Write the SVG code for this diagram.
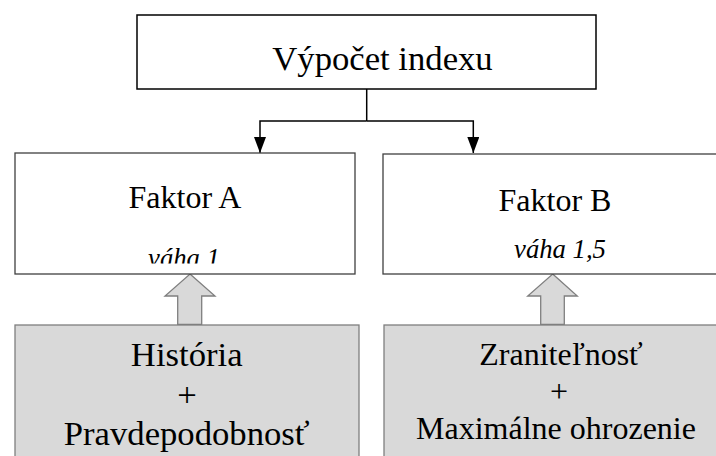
<svg xmlns="http://www.w3.org/2000/svg" width="716" height="456" viewBox="0 0 716 456">
<style>
text{font-family:'Liberation Serif','Times New Roman',serif;fill:#000;text-anchor:middle}
.top{fill:#fff;stroke:#000;stroke-width:1.5}
.fac{fill:#fff;stroke:#404040;stroke-width:1.3}
.src{fill:#d9d9d9;stroke:#7f7f7f;stroke-width:1.3}
.blk{fill:#d9d9d9;stroke:#7f7f7f;stroke-width:1.3}
.con{fill:none;stroke:#000;stroke-width:1.5}
.t34{font-size:34.67px}
.t32{font-size:32px}
.it{font-size:26.67px;font-style:italic}
</style>
<defs>
<marker id="ah" viewBox="0 0 16 12" refX="16" refY="6" markerWidth="16" markerHeight="12" markerUnits="userSpaceOnUse" orient="auto">
<path d="M0,0 L16,6 L0,12 Z" fill="#000"/>
</marker>
<clipPath id="clipA"><rect x="15" y="153" width="340" height="110.5"/></clipPath>
</defs>
<g id="connectors">
<path class="con" d="M366.7,89 V121"/>
<path class="con" d="M366.7,121 H260 V153" marker-end="url(#ah)"/>
<path class="con" d="M366.7,121 H473.3 V153" marker-end="url(#ah)"/>
<path class="blk" d="M190,274 L215,296 L201.7,296 L201.7,324.5 L177.7,324.5 L177.7,296 L165,296 Z"/>
<path class="blk" d="M552.7,274 L577.3,296 L564.3,296 L564.3,324.5 L540.7,324.5 L540.7,296 L527.7,296 Z"/>
</g>
<g id="vypocet">
<rect class="top" x="137" y="15" width="459" height="74"/>
<text class="t34" x="382.5" y="70">Výpočet indexu</text>
</g>
<g id="faktorA">
<rect class="fac" x="15" y="153" width="340" height="121"/>
<g clip-path="url(#clipA)">
<text class="t32" x="185" y="208.3">Faktor A</text>
<text class="it" x="184" y="267">váha 1</text>
</g>
</g>
<g id="faktorB">
<rect class="fac" x="383" y="154" width="340" height="120"/>
<text class="t32" x="555" y="210.7">Faktor B</text>
<text class="it" x="560" y="258.3">váha 1,5</text>
</g>
<g id="historia">
<rect class="src" x="15" y="325" width="344" height="150"/>
<text class="t34" x="186.7" y="365.7">História</text>
<text class="t34" x="187" y="405.5">+</text>
<text class="t34" x="186.7" y="445.3">Pravdepodobnosť</text>
</g>
<g id="zranitelnost">
<rect class="src" x="384" y="325" width="350" height="150"/>
<text class="t32" x="561" y="365">Zraniteľnosť</text>
<text class="t32" x="559" y="401.8">+</text>
<text class="t32" x="556" y="438.5">Maximálne ohrozenie</text>
</g>
</svg>
